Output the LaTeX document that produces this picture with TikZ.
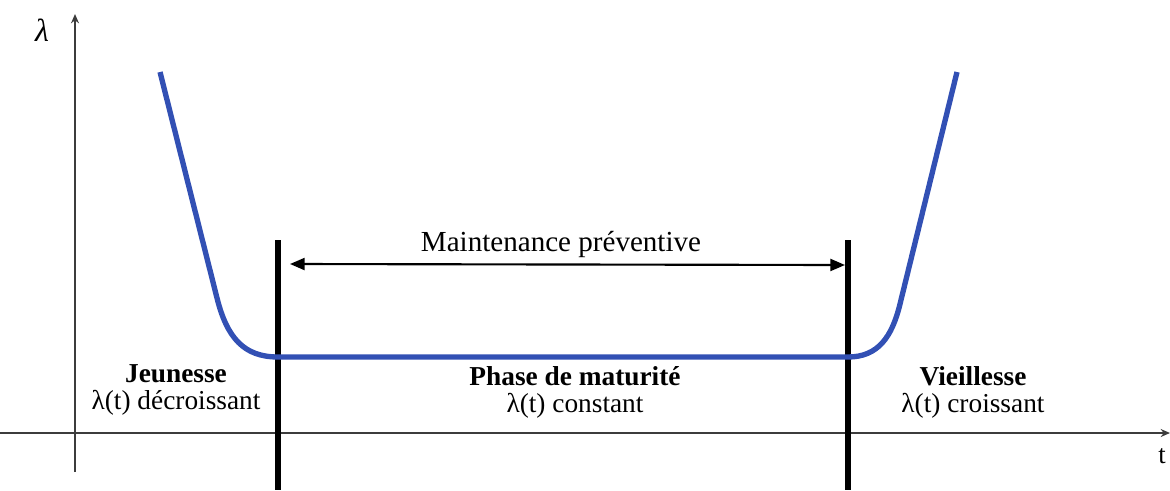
\documentclass[tikz,border=0pt]{standalone}
\usepackage{fontspec}
\setmainfont{Liberation Serif}
\usetikzlibrary{arrows.meta}
\definecolor{curveblue}{RGB}{50,80,180}
\definecolor{axisgray}{RGB}{60,60,60}
\tikzset{
  axis/.style={draw=axisgray, line width=1.6pt, -{Stealth[length=7pt,width=6pt]}},
  bar/.style={draw=black, line width=4pt},
  rate/.style={draw=curveblue, line width=4pt, line join=round},
  span/.style={draw=black, line width=1.6pt, {Triangle[length=11pt,width=9pt]}-{Triangle[length=11pt,width=9pt]}},
  phase/.style={font=\fontsize{20.5}{20}\selectfont, align=center, anchor=north},
}
\begin{document}
\begin{tikzpicture}[x=0.75pt, y=-0.75pt]
  \useasboundingbox (0,0) rectangle (1170,490);
  % axes
  \coordinate (yb) at (75,472);
  \coordinate (yt) at (75,14);
  \coordinate (xl) at (0,433);
  \coordinate (xr) at (1170,433);
  \draw[axis] (yb) -- (yt);
  \draw[axis] (xl) -- (xr);
  \node (lam) at (42,30) {\fontsize{24}{26}\selectfont\itshape λ};
  \node (tlab) at (1162,456) {\fontsize{20}{24}\selectfont t};
  % phase boundaries
  \coordinate (lbt) at (278,240);
  \coordinate (lbb) at (278,490);
  \coordinate (rbt) at (848,240);
  \coordinate (rbb) at (848,490);
  \draw[bar] (lbt) -- (lbb);
  \draw[bar] (rbt) -- (rbb);
  % bathtub curve
  \coordinate (c0) at (160,72);
  \coordinate (c1) at (217,298);
  \coordinate (c2) at (278,357);
  \coordinate (c3) at (848,357);
  \coordinate (c4) at (900,304);
  \coordinate (c5) at (957,72);
  \draw[rate] (c0) -- (c1) .. controls (227,338) and (244,357) .. (c2)
    -- (c3) .. controls (878,357) and (892,337) .. (c4) -- (c5);
  % preventive maintenance span
  \coordinate (sl) at (290,264);
  \coordinate (sr) at (845,265);
  \draw[span] (sl) -- (sr);
  \node (mp) at (561,244) {\fontsize{21.8}{25}\selectfont Maintenance préventive};
  % phase labels
  \node[phase] (jeu) at (176,360) {\textbf{Jeunesse}\\λ(t) décroissant};
  \node[phase] (mat) at (575,362) {\textbf{Phase de maturité}\\λ(t) constant};
  \node[phase] (vie) at (973,362) {\textbf{Vieillesse}\\λ(t) croissant};
\end{tikzpicture}
\end{document}
